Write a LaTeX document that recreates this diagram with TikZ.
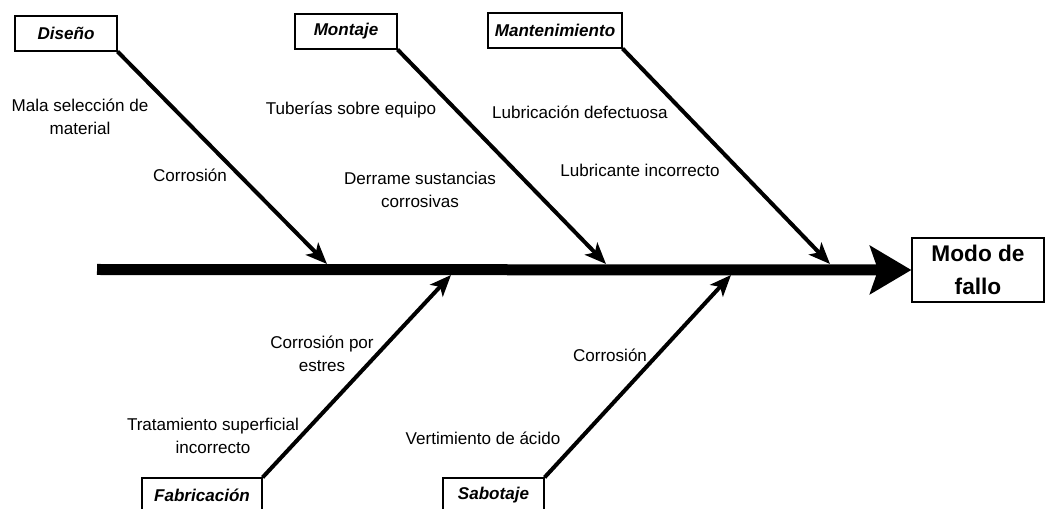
\documentclass[tikz,border=0pt]{standalone}
\usepackage{fontspec}
\setmainfont{Liberation Sans}
\usetikzlibrary{arrows.meta,positioning}

\tikzset{
  causa/.style={draw, line width=0.9pt, inner sep=2pt, minimum height=26.25pt,
    font=\bfseries\itshape\fontsize{12.8}{15}\selectfont},
  texto/.style={align=center, inner sep=0pt, font=\fontsize{12.8}{17}\selectfont},
  espina/.style={line width=3pt, -{Stealth[length=16pt,width=13pt,inset=4pt]}}
}

\begin{document}
\begin{tikzpicture}[x=0.75pt,y=-0.75pt]
            \useasboundingbox (0,0) rectangle (1046,509);
            % cajas de causas
            \node[causa, minimum width=76.5pt]  (diseno) at (66,33.5) {Diseño};
            \node[causa, minimum width=76.5pt]  (montaje) at (346,31.5) {Montaje};
            \node[causa, minimum width=100.5pt] (mant) at (555,30.5) {Mantenimiento};
            \node[causa, minimum width=90pt]    (fab) at (202,495.5) {Fabricación};
            \node[causa, minimum width=75.75pt] (sabotaje) at (493.5,495.5) {Sabotaje};
            % efecto
            \node[draw, line width=0.9pt, minimum width=99pt, minimum height=48pt, inner sep=0pt,
                  align=center, font=\bfseries\fontsize{17}{25}\selectfont] (modo) at (978,270) {Modo de\\fallo};
            % puntos sobre la espina
            \coordinate (cola) at (97,269.5);
            \coordinate (d1) at (327,264);
            \coordinate (m1) at (606,264);
            \coordinate (t1) at (830,264);
            \coordinate (f1) at (451,275);
            \coordinate (s1) at (731,275);
            % espina central
            \draw[line width=8.25pt, -{Stealth[length=31pt,width=36pt,inset=6pt]}] (cola) -- (modo.west);
            \foreach \c/\p in {diseno/d1,montaje/m1,mant/t1}{%
                    \draw[espina] (\c.south east) -- (\p);
                }
            \foreach \c/\p in {fab/f1,sabotaje/s1}{%
                    \draw[espina] (\c.north east) -- (\p);
                }
            % subcausas
            \node[texto] (mala) at (80,117) {Mala selección de\\material};
            \node[texto] (corrd) at (190,175) {Corrosión};
            \node[texto] (tub) at (351,110) {Tuberías sobre equipo};
            \node[texto] (derr) at (420,190) {Derrame sustancias\\corrosivas};
            \node[texto] (lubd) at (580,112) {Lubricación defectuosa};
            \node[texto] (lubi) at (640,170) {Lubricante incorrecto};
            \node[texto] (corrf) at (322,353.5) {Corrosión por\\estres};
            \node[texto] (trat) at (213,436) {Tratamiento superficial\\incorrecto};
            \node[texto] (corrs) at (610,355) {Corrosión};
            \node[texto] (vert) at (483,438) {Vertimiento de ácido};
        \end{tikzpicture}
\end{document}
